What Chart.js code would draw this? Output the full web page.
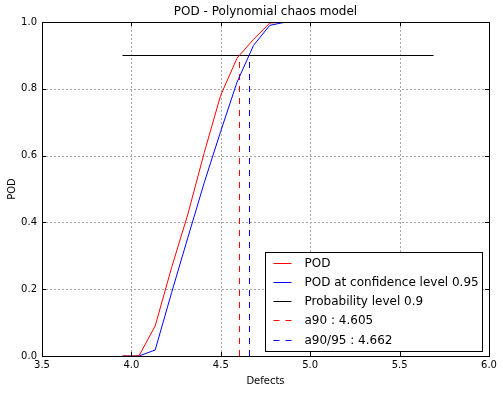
<!DOCTYPE html>
<html>
<head>
<meta charset="utf-8">
<script src="https://cdn.jsdelivr.net/npm/chart.js@4.4.0/dist/chart.umd.min.js"></script>
<style>
html, body { margin: 0; padding: 0; background: #fff; }
#wrap { width: 503px; height: 393px; }
</style>
</head>
<body>
<div id="wrap"><canvas id="pod" width="503" height="393"></canvas></div>
<script>
const defects = [3.950, 4.042, 4.133, 4.225, 4.316, 4.408, 4.499, 4.591, 4.683, 4.774,
  4.866, 4.957, 5.049, 5.140, 5.232, 5.324, 5.415, 5.507, 5.598, 5.690];
const podMean = [0, 0, 0.09, 0.265, 0.425, 0.61, 0.78, 0.892, 0.948, 0.997,
  1, 1, 1, 1, 1, 1, 1, 1, 1, 1];
const podConf = [0, 0, 0.018, 0.19, 0.355, 0.52, 0.672, 0.82, 0.93, 0.99,
  1, 1, 1, 1, 1, 1, 1, 1, 1, 1];
const probLevel = 0.9;
const a90 = 4.605;
const a9095 = 4.662;
const xTicks = [3.5, 4.0, 4.5, 5.0, 5.5, 6.0];
const yTicks = [0, 0.2, 0.4, 0.6, 0.8, 1.0];

const FONT = "'DejaVu Sans', sans-serif";
const pts = (xs, ys) => xs.map((x, i) => ({ x: x, y: ys[i] }));

const datasets = [
  { label: "POD", data: pts(defects, podMean), borderColor: "#ff0000" },
  { label: "POD at confidence level 0.95", data: pts(defects, podConf), borderColor: "#0000ff" },
  { label: "Probability level " + probLevel,
    data: [{ x: defects[0], y: probLevel }, { x: defects[defects.length - 1], y: probLevel }],
    borderColor: "#000000", snap: "y" },
  { label: "a90 : " + a90.toFixed(3), data: [{ x: a90, y: 0 }, { x: a90, y: probLevel }],
    borderColor: "#ff0000", borderDash: [6, 6], snap: "x" },
  { label: "a90/95 : " + a9095.toFixed(3), data: [{ x: a9095, y: 0 }, { x: a9095, y: probLevel }],
    borderColor: "#0000ff", borderDash: [6, 6], snap: "x" }
].map(d => Object.assign({ borderWidth: 1, pointRadius: 0, fill: false, tension: 0 }, d));

// keep straight 1px lines crisp: shift them onto a pixel centre
const crispPlugin = {
  id: "crisp",
  beforeDatasetDraw(chart, args) {
    const d = chart.data.datasets[args.index];
    if (!d.snap) return;
    const p = args.meta.data[0];
    const fix = v => Math.floor(v) + 0.5 - v;
    chart.ctx.save();
    chart.ctx.translate(d.snap === "x" ? fix(p.x) : 0, d.snap === "y" ? fix(p.y) : 0);
  },
  afterDatasetDraw(chart, args) {
    if (chart.data.datasets[args.index].snap) chart.ctx.restore();
  }
};

// dotted grid under the lines
const gridPlugin = {
  id: "dotgrid",
  beforeDatasetsDraw(chart) {
    const ctx = chart.ctx;
    const a = chart.chartArea;
    const xs = chart.scales.x, ys = chart.scales.y;
    ctx.save();
    ctx.strokeStyle = "#a8a8a8";
    ctx.lineWidth = 1;
    ctx.setLineDash([2, 2]);
    ctx.beginPath();
    xTicks.slice(1, -1).forEach(v => {
      const px = Math.round(xs.getPixelForValue(v)) + 0.5;
      ctx.moveTo(px, a.top); ctx.lineTo(px, a.bottom);
    });
    yTicks.slice(1, -1).forEach(v => {
      const py = Math.round(ys.getPixelForValue(v)) + 0.5;
      ctx.moveTo(a.left, py); ctx.lineTo(a.right, py);
    });
    ctx.stroke();
    ctx.restore();
  }
};

// frame, inward ticks and the boxed legend
const framePlugin = {
  id: "frame",
  afterDraw(chart) {
    const ctx = chart.ctx;
    const a = chart.chartArea;
    const xs = chart.scales.x, ys = chart.scales.y;
    ctx.save();
    ctx.strokeStyle = "#000";
    ctx.lineWidth = 1;
    ctx.setLineDash([]);
    ctx.beginPath();
    xTicks.forEach(v => {
      const px = Math.round(xs.getPixelForValue(v)) + 0.5;
      ctx.moveTo(px, a.bottom); ctx.lineTo(px, a.bottom - 4);
      ctx.moveTo(px, a.top); ctx.lineTo(px, a.top + 4);
    });
    yTicks.forEach(v => {
      const py = Math.round(ys.getPixelForValue(v)) + 0.5;
      ctx.moveTo(a.left, py); ctx.lineTo(a.left + 4, py);
      ctx.moveTo(a.right, py); ctx.lineTo(a.right - 4, py);
    });
    ctx.stroke();
    ctx.strokeRect(Math.round(a.left) + 0.5, Math.round(a.top) + 0.5,
      Math.round(a.right - a.left), Math.round(a.bottom - a.top));

    // legend
    const bx = 265.5, by = 252.5, bw = 217, bh = 99;
    ctx.fillStyle = "#fff";
    ctx.fillRect(bx, by, bw, bh);
    ctx.strokeRect(bx, by, bw, bh);
    ctx.font = "12px " + FONT;
    ctx.textBaseline = "middle";
    ctx.textAlign = "left";
    chart.data.datasets.forEach((d, i) => {
      const y = Math.round(by + 10 + i * 19.3) + 0.5;
      ctx.strokeStyle = d.borderColor;
      ctx.setLineDash(d.borderDash || []);
      ctx.beginPath();
      ctx.moveTo(bx + 8, y); ctx.lineTo(bx + 26, y);
      ctx.stroke();
      ctx.setLineDash([]);
      ctx.fillStyle = "#000";
      ctx.fillText(d.label, bx + 39, y);
    });
    ctx.restore();
  }
};

new Chart(document.getElementById("pod"), {
  type: "line",
  data: { datasets: datasets },
  plugins: [crispPlugin, gridPlugin, framePlugin],
  options: {
    responsive: false,
    animation: false,
    layout: { padding: { left: 0, right: 14, top: 0, bottom: 0 } },
    plugins: {
      legend: { display: false },
      tooltip: { enabled: false },
      title: { display: false }
    },
    scales: {
      x: {
        type: "linear",
        position: "bottom",
        min: 3.5,
        max: 6.0,
        afterBuildTicks: s => { s.ticks = xTicks.map(v => ({ value: v })); },
        afterFit: s => { s.height = 37; },
        ticks: {
          padding: 3,
          color: "#000",
          font: { family: FONT, size: 10 },
          callback: v => v.toFixed(1),
          maxRotation: 0
        },
        grid: { display: false, drawTicks: false },
        border: { display: false },
        title: {
          display: true, text: "Defects", color: "#000",
          font: { family: FONT, size: 10 }, padding: { top: 0, bottom: 6 }
        }
      },
      top: {
        type: "linear",
        position: "top",
        min: 3.5,
        max: 6.0,
        display: true,
        afterFit: s => { s.height = 22; },
        ticks: { display: false },
        grid: { display: false, drawTicks: false },
        border: { display: false },
        title: {
          display: true, text: "POD - Polynomial chaos model", color: "#000",
          font: { family: FONT, size: 12 }, padding: { top: 5, bottom: 0 }
        }
      },
      y: {
        type: "linear",
        min: 0,
        max: 1.0,
        afterBuildTicks: s => { s.ticks = yTicks.map(v => ({ value: v })); },
        afterFit: s => { s.width = 42; },
        ticks: {
          padding: 5,
          color: "#000",
          font: { family: FONT, size: 10 },
          callback: v => v.toFixed(1)
        },
        grid: { display: false, drawTicks: false },
        border: { display: false },
        title: {
          display: true, text: "POD", color: "#000",
          font: { family: FONT, size: 10 }, padding: { top: 6, bottom: 0 }
        }
      }
    }
  }
});
</script>
</body>
</html>
